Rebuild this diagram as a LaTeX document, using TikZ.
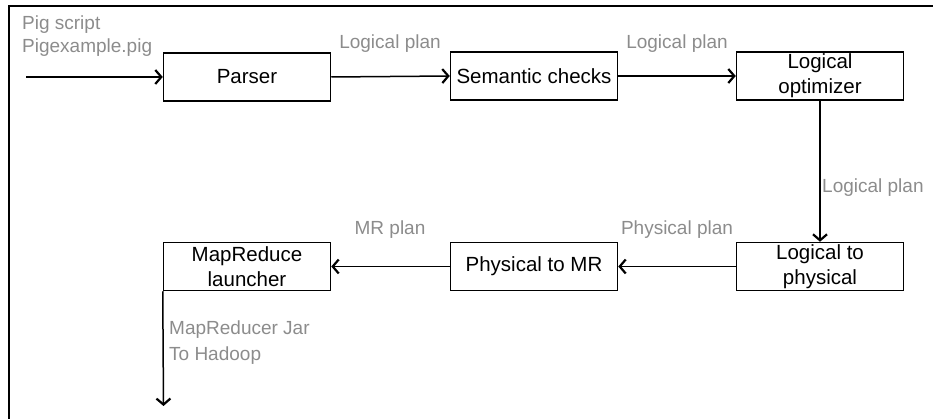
\documentclass[tikz,border=0pt]{standalone}
\usepackage{fontspec}
\setmainfont{Liberation Sans}
\usetikzlibrary{arrows.meta}
\definecolor{lblgray}{RGB}{140,140,140}
\tikzset{
  procbox/.style={draw=black, line width=1.5pt, minimum width=167pt, minimum height=48pt, inner sep=0pt, align=center, font=\fontsize{20.5}{25}\selectfont},
  lbl/.style={text=lblgray, inner sep=0pt, font=\fontsize{19}{23}\selectfont},
  flow/.style={line width=1.5pt, -{Straight Barb[length=6pt,width=14pt,line width=2.2pt]}},
  frameline/.style={line width=1.5pt}
}
\begin{document}
\begin{tikzpicture}[x=1pt,y=-1pt]
\useasboundingbox (0,0) rectangle (933,419);
% frame (cropped)
\coordinate (ftl) at (9,6);
\coordinate (ftr) at (933,6);
\coordinate (fbl) at (9,419);
\draw[frameline] (fbl) -- (ftl) -- (ftr);

% boxes
\node[procbox] (parser) at (247,77) {Parser};
\node[procbox] (sem) at (534,76) {Semantic checks};
\node[procbox] (opt) at (820,76) {Logical\\optimizer};
\node[procbox] (l2p) at (820,266.5) {Logical to\\physical};
\node[procbox] (p2mr) at (534,266.5) {Physical to MR};
\node[procbox] (mrl) at (247,266.5) {MapReduce\\launcher};

% free ends
\coordinate (in) at (26,77);
\coordinate (out) at (163.5,406);

% connectors
\draw[flow] (in) -- (parser.west);
\draw[flow] (parser.east) -- (sem.west);
\draw[flow] (sem.east) -- (opt.west);
\draw[flow] (opt.south) -- (l2p.north);
\draw[flow] (l2p.west) -- (p2mr.east);
\draw[flow] (p2mr.west) -- (mrl.east);
\draw[flow] (mrl.south west) -- (out);

% labels
\node[lbl, anchor=west, align=left, font=\fontsize{19}{23}\selectfont] (pig) at (22,36) {Pig script\\Pigexample.pig};
\node[lbl] (lp1) at (390,44) {Logical plan};
\node[lbl] (lp2) at (677,44) {Logical plan};
\node[lbl, anchor=west] (lp3) at (822,188) {Logical plan};
\node[lbl] (pp) at (677,230) {Physical plan};
\node[lbl] (mrp) at (390,230) {MR plan};
\node[lbl, anchor=west, align=left, font=\fontsize{19}{26}\selectfont] (jar) at (169,343) {MapReducer Jar\\To Hadoop};
\end{tikzpicture}
\end{document}
